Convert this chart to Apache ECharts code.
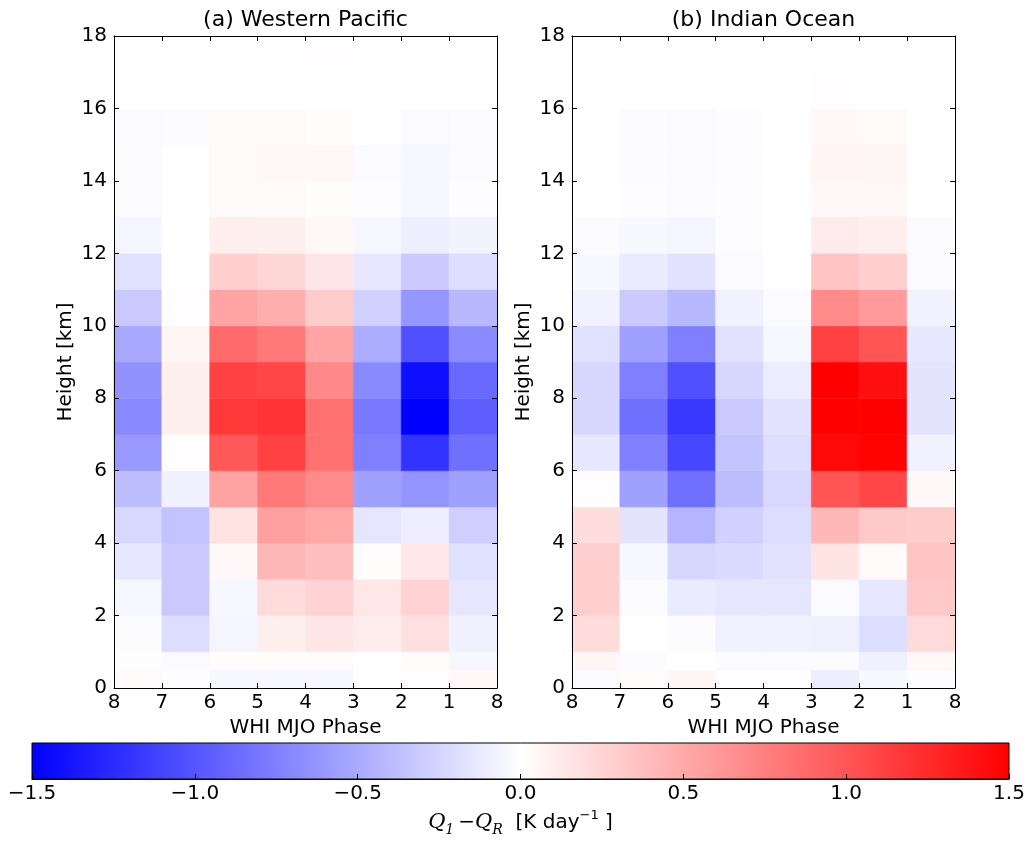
<!DOCTYPE html>
<html>
<head>
<meta charset="utf-8">
<title>Q1 - QR composites</title>
<script src="https://cdn.jsdelivr.net/npm/echarts@6/dist/echarts.min.js"></script>
<style>
  html, body { margin: 0; padding: 0; background: #fff; }
  #chart { width: 1029px; height: 842px; }
</style>
</head>
<body>
<div id="chart"></div>
<script>
// x tick labels sit on cell edges, cells run 8-7, 7-6, ... 1-8
var phaseLabels = ['8', '7', '6', '5', '4', '3', '2', '1', '8']
// height edges of the rows [km]
var rowEdges = [0, 0.5, 1, 2, 3, 4, 5, 6, 7, 8, 9, 10, 11, 12, 13, 14, 15, 16, 17, 18]
var cbTicks = [-1.5, 1.5]

// Q1-QR [K/day], one row per height layer, bottom to top
var westernPacific = [
  [0.03, -0.01, -0.04, -0.05, -0.05, 0, 0.01, 0.04],
  [-0.01, -0.03, 0.02, 0.02, 0.02, 0, 0.02, -0.05],
  [-0.02, -0.2, -0.06, 0.09, 0.15, 0.11, 0.18, -0.09],
  [-0.05, -0.32, -0.05, 0.21, 0.26, 0.14, 0.26, -0.15],
  [-0.15, -0.32, 0.04, 0.42, 0.38, 0.02, 0.14, -0.18],
  [-0.23, -0.35, 0.17, 0.56, 0.51, -0.15, -0.1, -0.29],
  [-0.38, -0.09, 0.55, 0.79, 0.69, -0.56, -0.63, -0.56],
  [-0.6, 0.01, 0.98, 1.12, 0.84, -0.75, -1.2, -0.84],
  [-0.7, 0.09, 1.17, 1.2, 0.84, -0.79, -1.5, -0.95],
  [-0.65, 0.09, 1.12, 1.08, 0.7, -0.69, -1.41, -0.88],
  [-0.51, 0.06, 0.87, 0.79, 0.53, -0.48, -1.03, -0.68],
  [-0.32, 0.01, 0.54, 0.48, 0.3, -0.27, -0.62, -0.42],
  [-0.18, 0, 0.29, 0.24, 0.15, -0.14, -0.31, -0.2],
  [-0.06, 0, 0.1, 0.09, 0.04, -0.05, -0.1, -0.07],
  [-0.02, 0, 0.03, 0.03, 0.02, -0.01, -0.04, -0.01],
  [-0.02, 0, 0.03, 0.04, 0.04, -0.03, -0.04, -0.03],
  [-0.03, -0.02, 0.03, 0.03, 0.02, 0, -0.03, -0.03],
  [0, 0, 0, 0, 0, 0, 0, 0],
  [0, 0, 0, 0, 0.01, 0, 0, 0]
]

var indianOcean = [
  [-0.03, 0.02, 0.05, 0.01, 0.01, -0.1, -0.04, -0.01],
  [0.05, -0.02, 0, -0.02, -0.02, -0.02, -0.09, 0.04],
  [0.2, 0, -0.02, -0.08, -0.08, -0.09, -0.2, 0.21],
  [0.28, -0.02, -0.12, -0.15, -0.15, -0.03, -0.14, 0.32],
  [0.28, -0.05, -0.24, -0.21, -0.17, 0.16, 0.03, 0.35],
  [0.2, -0.16, -0.44, -0.27, -0.2, 0.42, 0.32, 0.3],
  [0.01, -0.56, -0.84, -0.38, -0.23, 1.0, 1.08, 0.04],
  [-0.14, -0.75, -1.08, -0.35, -0.2, 1.45, 1.48, -0.08],
  [-0.24, -0.84, -1.17, -0.32, -0.17, 1.5, 1.5, -0.16],
  [-0.24, -0.75, -1.03, -0.24, -0.11, 1.5, 1.41, -0.16],
  [-0.18, -0.56, -0.75, -0.17, -0.05, 1.12, 1.0, -0.14],
  [-0.08, -0.31, -0.42, -0.08, -0.03, 0.68, 0.59, -0.08],
  [-0.04, -0.12, -0.17, -0.03, 0, 0.35, 0.28, -0.02],
  [-0.02, -0.04, -0.06, -0.01, 0, 0.12, 0.1, -0.02],
  [0, -0.01, -0.02, -0.01, 0, 0.04, 0.04, 0],
  [0, -0.02, -0.03, -0.01, 0, 0.06, 0.05, 0],
  [0, -0.02, -0.03, -0.01, 0, 0.04, 0.03, 0],
  [0, 0, 0, 0, 0, 0.01, 0, 0],
  [0, 0, 0, 0, 0, 0, 0, 0]
]

var FONT = 'DejaVu Sans'

function toCells (grid) {
  var out = []
  grid.forEach(function (row, r) {
    row.forEach(function (v, c) { out.push([c, r, v]) })
  })
  return out
}

function renderCell (params, api) {
  var c = api.value(0)
  var r = api.value(1)
  var p0 = api.coord([c, rowEdges[r]])
  var p1 = api.coord([c + 1, rowEdges[r + 1]])
  var color = api.visual('color')
  return {
    type: 'rect',
    shape: { x: p0[0], y: p1[1], width: p1[0] - p0[0], height: p0[1] - p1[1] },
    style: { fill: color, stroke: color, lineWidth: 0.6 }
  }
}

function renderColorbar (params, api) {
  var p0 = api.coord([api.value(0), 0])
  var p1 = api.coord([api.value(1), 1])
  return {
    type: 'rect',
    shape: { x: p0[0], y: p1[1], width: p1[0] - p0[0], height: p0[1] - p1[1] },
    style: {
      fill: new echarts.graphic.LinearGradient(0, 0, 1, 0, [
        { offset: 0, color: '#0000ff' },
        { offset: 0.5, color: '#ffffff' },
        { offset: 1, color: '#ff0000' }
      ]),
      stroke: '#000',
      lineWidth: 1
    }
  }
}

function phaseAxis (gridIndex, pos) {
  var bottom = pos === 'bottom'
  return {
    type: 'value',
    gridIndex: gridIndex,
    position: pos,
    min: 0,
    max: 8,
    interval: 1,
    z: 10,
    name: bottom ? 'WHI MJO Phase' : '',
    nameLocation: 'middle',
    nameGap: 27,
    nameTextStyle: { fontFamily: FONT, fontSize: 20, color: '#000' },
    axisLine: { show: true, onZero: false, lineStyle: { color: '#000', width: 1 } },
    axisTick: { show: true, inside: true, length: 5, lineStyle: { color: '#000' } },
    axisLabel: {
      show: bottom,
      margin: 5,
      fontFamily: FONT,
      fontSize: 20,
      color: '#000',
      formatter: function (v) { return phaseLabels[Math.round(v)] }
    },
    splitLine: { show: false }
  }
}

function heightAxis (gridIndex, pos) {
  var left = pos === 'left'
  return {
    type: 'value',
    gridIndex: gridIndex,
    position: pos,
    min: 0,
    max: 18,
    interval: 2,
    z: 10,
    name: left ? 'Height [km]' : '',
    nameLocation: 'middle',
    nameGap: 38,
    nameTextStyle: { fontFamily: FONT, fontSize: 20, color: '#000' },
    axisLine: { show: true, onZero: false, lineStyle: { color: '#000', width: 1 } },
    axisTick: { show: true, inside: true, length: 5, lineStyle: { color: '#000' } },
    axisLabel: { show: left, margin: 7, fontFamily: FONT, fontSize: 20, color: '#000' },
    splitLine: { show: false }
  }
}

var chart = echarts.init(document.getElementById('chart'), null, { renderer: 'canvas' })

chart.setOption({
  backgroundColor: '#fff',
  animation: false,
  title: [
    { text: '(a) Western Pacific', left: 305.5, top: 9, textAlign: 'center', padding: 0,
      textStyle: { fontFamily: FONT, fontSize: 22, fontWeight: 'normal', color: '#000' } },
    { text: '(b) Indian Ocean', left: 763.5, top: 9, textAlign: 'center', padding: 0,
      textStyle: { fontFamily: FONT, fontSize: 22, fontWeight: 'normal', color: '#000' } }
  ],
  grid: [
    { left: 114, top: 36, width: 383, height: 652 },
    { left: 572, top: 36, width: 383, height: 652 },
    { left: 32, top: 743, width: 977, height: 36 }
  ],
  visualMap: {
    type: 'continuous',
    show: false,
    min: -1.5,
    max: 1.5,
    dimension: 2,
    seriesIndex: [0, 1],
    inRange: { color: ['#0000ff', '#ffffff', '#ff0000'] }
  },
  xAxis: [
    phaseAxis(0, 'bottom'),
    phaseAxis(0, 'top'),
    phaseAxis(1, 'bottom'),
    phaseAxis(1, 'top'),
    {
      type: 'value',
      gridIndex: 2,
      position: 'bottom',
      min: cbTicks[0],
      max: cbTicks[1],
      interval: 0.5,
      z: 10,
      name: '{q|Q}{s|1}{m|\u2009\u2212}{q|Q}{s|R}{t|  [K day}{sup|\u22121}{t| ]}',
      nameLocation: 'middle',
      nameGap: 30,
      nameTextStyle: {
        color: '#000',
        rich: {
          q: { fontFamily: 'DejaVu Serif', fontStyle: 'italic', fontSize: 21, color: '#000', lineHeight: 28 },
          s: { fontFamily: 'DejaVu Serif', fontStyle: 'italic', fontSize: 14, color: '#000', verticalAlign: 'bottom', lineHeight: 28 },
          m: { fontFamily: 'DejaVu Serif', fontSize: 20, color: '#000', lineHeight: 28 },
          t: { fontFamily: FONT, fontSize: 20, color: '#000', lineHeight: 28 },
          sup: { fontFamily: FONT, fontSize: 13, color: '#000', verticalAlign: 'top', lineHeight: 28 }
        }
      },
      axisLine: { show: true, onZero: false, lineStyle: { color: '#000', width: 1 } },
      axisTick: { show: true, inside: true, length: 5, lineStyle: { color: '#000' } },
      axisLabel: {
        margin: 5,
        fontFamily: FONT,
        fontSize: 20,
        color: '#000',
        formatter: function (v) { return (v < 0 ? '\u2212' : '') + Math.abs(v).toFixed(1) }
      },
      splitLine: { show: false }
    }
  ],
  yAxis: [
    heightAxis(0, 'left'),
    heightAxis(0, 'right'),
    heightAxis(1, 'left'),
    heightAxis(1, 'right'),
    { type: 'value', gridIndex: 2, min: 0, max: 1, show: false }
  ],
  series: [
    {
      name: 'Western Pacific',
      type: 'custom',
      xAxisIndex: 0,
      yAxisIndex: 0,
      renderItem: renderCell,
      data: toCells(westernPacific)
    },
    {
      name: 'Indian Ocean',
      type: 'custom',
      xAxisIndex: 2,
      yAxisIndex: 2,
      renderItem: renderCell,
      data: toCells(indianOcean)
    },
    {
      name: 'colorbar',
      type: 'custom',
      xAxisIndex: 4,
      yAxisIndex: 4,
      renderItem: renderColorbar,
      data: [cbTicks]
    }
  ]
})
</script>
</body>
</html>
